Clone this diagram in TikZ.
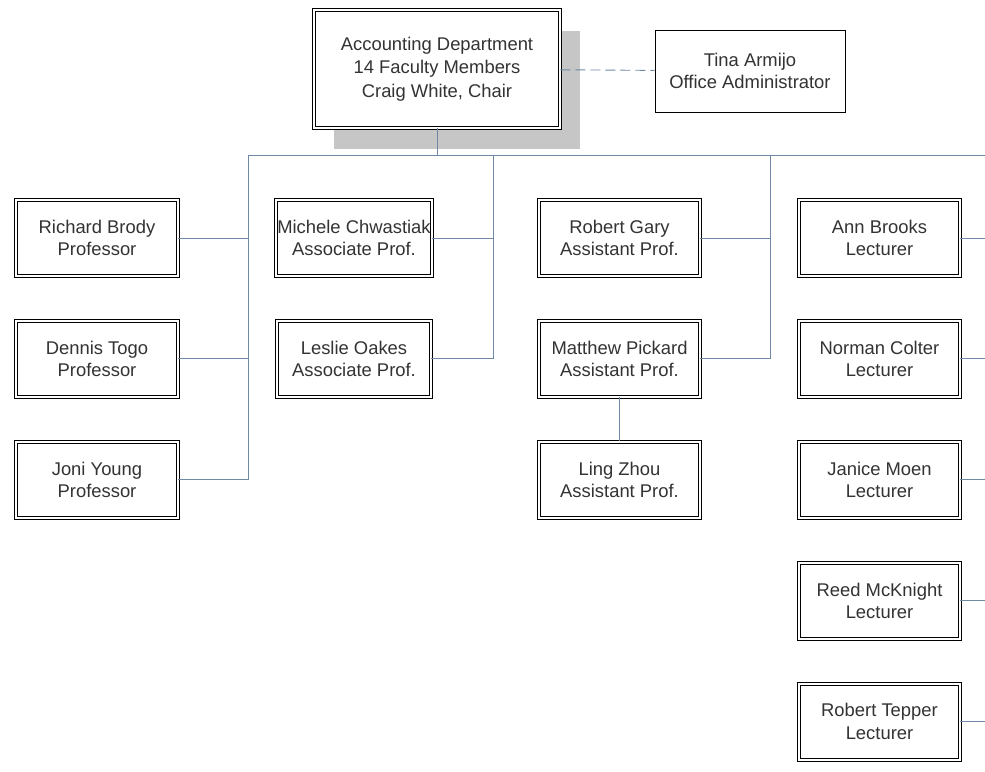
\documentclass[tikz,border=0pt]{standalone}
\usepackage{fontspec}
\setmainfont{Liberation Sans}
\usetikzlibrary{positioning,shadows}
\definecolor{linha}{HTML}{6F88A6}
\definecolor{texto}{HTML}{333333}
\definecolor{sombra}{HTML}{C6C6C6}

\begin{document}
\begin{tikzpicture}[
  x=1pt, y=-1pt,
  node distance=44pt and 20pt,
  cargo/.style={draw=black, fill=white, double=white, double distance=2pt, line width=0.9pt,
                text=texto, align=center, minimum width=161pt, minimum height=76pt,
                font=\fontsize{18.4}{22.5}\selectfont, inner sep=1pt},
  simples/.style={draw=black, fill=white, line width=0.9pt, text=texto, align=center,
                  font=\fontsize{18.4}{22.5}\selectfont},
  liga/.style={draw=linha, line width=0.9pt},
  pontilhado/.style={liga, dash pattern=on 10pt off 5pt}
]
  \useasboundingbox (0,0) rectangle (985,771);
  % chefia
  \node[cargo, minimum width=246pt, minimum height=118pt,
        font=\fontsize{18.4}{23.5}\selectfont,
        general shadow={fill=sombra, shadow xshift=20pt, shadow yshift=-21pt}]
        (chefe) at (437,69) {Accounting Department\\14 Faculty Members\\Craig White, Chair};
  \node[simples, minimum width=190pt, minimum height=82pt] (admin) at (750,71)
        {Tina Armijo\\Office Administrator};
  \draw[pontilhado] (chefe) -- (admin);

  % professores
  \node[cargo, minimum width=162pt] (brody) at (97,238) {Richard Brody\\Professor};
  \node[cargo, minimum width=162pt, below=of brody] (togo) {Dennis Togo\\Professor};
  \node[cargo, minimum width=162pt, below=of togo] (young) {Joni Young\\Professor};

  % associados
  \node[cargo, minimum width=154pt] (chwastiak) at (354,238) {Michele Chwastiak\\Associate Prof.};
  \node[cargo, minimum width=154pt, below=of chwastiak] (oakes) {Leslie Oakes\\Associate Prof.};

  % assistentes
  \node[cargo] (gary) at (619.5,238) {Robert Gary\\Assistant Prof.};
  \node[cargo, below=of gary] (pickard) {Matthew Pickard\\Assistant Prof.};
  \node[cargo, below=of pickard] (zhou) {Ling Zhou\\Assistant Prof.};

  % lecturers
  \node[cargo] (brooks) at (879.5,238) {Ann Brooks\\Lecturer};
  \node[cargo, below=of brooks] (colter) {Norman Colter\\Lecturer};
  \node[cargo, below=of colter] (moen) {Janice Moen\\Lecturer};
  \node[cargo, below=of moen] (mcknight) {Reed McKnight\\Lecturer};
  \node[cargo, below=of mcknight] (tepper) {Robert Tepper\\Lecturer};

  % barramento
  \coordinate (barraA) at (248,155);
  \coordinate (barraB) at (493,155);
  \coordinate (barraC) at (770,155);
  \coordinate (borda) at (985,155);
  \draw[liga] (chefe.south) -- (chefe.south |- barraA);
  \draw[liga] (barraA) -- (borda);
  \draw[liga] (barraA) |- (young.east);
  \draw[liga] (brody.east) -- (brody.east -| barraA);
  \draw[liga] (togo.east) -- (togo.east -| barraA);
  \draw[liga] (barraB) |- (oakes.east);
  \draw[liga] (chwastiak.east) -- (chwastiak.east -| barraB);
  \draw[liga] (barraC) |- (pickard.east);
  \draw[liga] (gary.east) -- (gary.east -| barraC);
  \draw[liga] (pickard) -- (zhou);
  \foreach \n in {brooks,colter,moen,mcknight,tepper}
    \draw[liga] (\n.east) -- (\n.east -| borda);
\end{tikzpicture}
\end{document}
